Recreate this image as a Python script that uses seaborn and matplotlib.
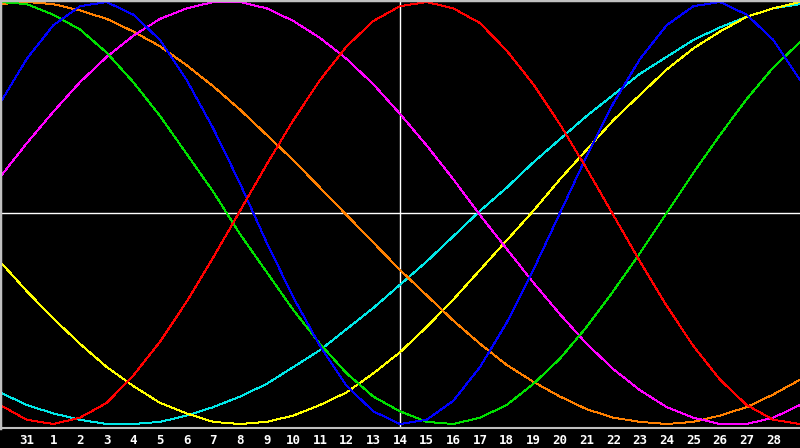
import pandas as pd
import seaborn as sns
import matplotlib.pyplot as plt

# day labels along the bottom (first and last point have no label)
days = ['30', '31'] + [str(d) for d in range(1, 30)]

# cycle values (-100..100), one per day
physical = [52, 73, 89, 98, 100, 94, 82, 63, 40, 14, -14, -40, -63, -82, -94, -100,
            -98, -89, -73, -52, -27, 0, 27, 52, 73, 89, 98, 100, 94, 82, 63]
emotional = [-91, -98, -100, -97, -90, -77, -61, -42, -21, 1, 23, 44, 63, 79, 91, 98,
             100, 97, 90, 77, 61, 42, 21, -1, -23, -44, -63, -79, -91, -98, -100]
intellectual = [100, 99, 94, 87, 76, 62, 46, 28, 10, -10, -28, -46, -62, -76, -87, -94,
                -99, -100, -97, -91, -81, -69, -54, -37, -19, 0, 19, 37, 54, 69, 81]
intuitive = [17, 33, 48, 62, 74, 84, 92, 97, 100, 100, 97, 91, 83, 73, 61, 47,
             32, 16, -1, -17, -33, -48, -62, -74, -84, -92, -97, -100, -100, -97, -91]
aesthetic = [-23, -37, -50, -62, -73, -82, -90, -95, -99, -100, -99, -96, -91, -85, -76, -66,
             -54, -41, -27, -13, 1, 16, 30, 44, 56, 68, 78, 86, 93, 97, 100]
awareness = [99, 100, 99, 96, 92, 86, 79, 70, 60, 49, 37, 25, 12, -1, -14, -27,
             -39, -51, -62, -72, -80, -87, -93, -97, -99, -100, -99, -96, -92, -86, -79]
spiritual = [-85, -91, -95, -98, -100, -100, -99, -96, -92, -87, -81, -73, -65, -55, -45, -34,
             -23, -11, 1, 12, 24, 35, 46, 56, 66, 74, 82, 88, 93, 97, 99]

series = {
    'spiritual': spiritual,
    'aesthetic': aesthetic,
    'awareness': awareness,
    'intuitive': intuitive,
    'intellectual': intellectual,
    'physical': physical,
    'emotional': emotional,
}
colors = {
    'physical': '#0000ff',
    'emotional': '#ff0000',
    'intellectual': '#00e000',
    'intuitive': '#ff00ff',
    'aesthetic': '#ffff00',
    'awareness': '#ff8000',
    'spiritual': '#00e8e8',
}

rows = []
for name, vals in series.items():
    for i, v in enumerate(vals):
        rows.append({'pos': i, 'value': v, 'cycle': name})
df = pd.DataFrame(rows)

sns.set_theme(style='dark')
plt.rcParams['font.family'] = ['DejaVu Sans Mono', 'DejaVu Sans']

fig = plt.figure(figsize=(8, 4.48), dpi=100, facecolor='black')
ax = fig.add_axes([0, 20 / 448, 1, 428 / 448])
ax.set_facecolor('black')

# crosshair
ax.axhline(0, color='white', lw=1, zorder=1)
ax.axvline(15, color='white', lw=1, zorder=1)

sns.lineplot(data=df, x='pos', y='value', hue='cycle', palette=colors,
             linewidth=0.7, legend=False, ax=ax, estimator=None, sort=False,
             antialiased=False, zorder=2)

ax.set_xlim(0, 30)
ax.set_ylim(-101.9, 100.95)
ax.set_xlabel('')
ax.set_ylabel('')
ax.set_yticks([])
ax.set_xticks(range(1, 30))
ax.set_xticklabels(days[1:30], fontsize=9, fontweight='bold', color='white')
ax.tick_params(axis='x', direction='in', length=4, width=1, color='white', pad=4)
ax.grid(False)

for side in ['top', 'left']:
    ax.spines[side].set_color('#c0c0c0')
    ax.spines[side].set_linewidth(2.5)
ax.spines['bottom'].set_color('#c0c0c0')
ax.spines['bottom'].set_linewidth(1.5)
ax.spines['right'].set_visible(False)

fig.savefig('out.png', dpi=100, facecolor='black')
